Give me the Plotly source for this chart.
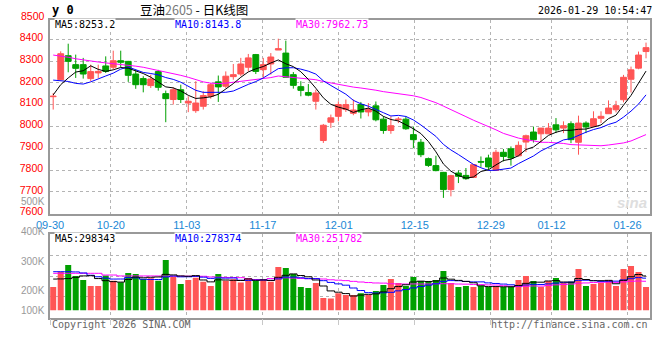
import plotly.graph_objects as go

# ---------------- data ----------------
dates = ["09-30", "10-09", "10-10", "10-13", "10-14", "10-15", "10-16", "10-17",
         "10-20", "10-21", "10-22", "10-23", "10-24", "10-27", "10-28", "10-29", "10-30", "10-31",
         "11-03", "11-04", "11-05", "11-06", "11-07", "11-10", "11-11", "11-12", "11-13", "11-14",
         "11-17", "11-18", "11-19", "11-20", "11-21", "11-24", "11-25", "11-26", "11-27", "11-28",
         "12-01", "12-02", "12-03", "12-04", "12-05", "12-08", "12-09", "12-10", "12-11", "12-12",
         "12-15", "12-16", "12-17", "12-18", "12-19", "12-22", "12-23", "12-24", "12-25", "12-26",
         "12-29", "12-30", "12-31", "01-05", "01-06", "01-07", "01-08", "01-09",
         "01-12", "01-13", "01-14", "01-15", "01-16", "01-19", "01-20", "01-21", "01-22", "01-23",
         "01-26", "01-27", "01-28", "01-29"]

opens = [8137, 8215, 8325, 8284, 8284, 8220, 8246, 8278, 8272, 8302,
         8299, 8241, 8220, 8188, 8252, 8151, 8124, 8169, 8108, 8073,
         8093, 8139, 8205, 8185, 8229, 8241, 8272, 8330, 8261, 8287,
         8351, 8337, 8238, 8183, 8156, 8116, 7936, 8020, 8047, 8078,
         8061, 8101, 8067, 8095, 8034, 7982, 8031, 8034, 7963, 7928,
         7853, 7821, 7790, 7711, 7787, 7776, 7767, 7840, 7856, 7799,
         7882, 7898, 7866, 7929, 7975, 7967, 7967, 8008, 7993, 8013,
         7928, 8016, 8001, 8038, 8059, 8077, 8123, 8217, 8268, 8344]
highs = [8154, 8345, 8380, 8330, 8315, 8284, 8284, 8322, 8348, 8348,
         8301, 8258, 8231, 8238, 8260, 8165, 8180, 8192, 8139, 8208,
         8162, 8200, 8234, 8253, 8287, 8315, 8333, 8333, 8315, 8337,
         8403, 8394, 8250, 8208, 8195, 8169, 8012, 8055, 8116, 8124,
         8124, 8113, 8108, 8115, 8047, 8047, 8044, 8047, 8000, 7943,
         7858, 7866, 7792, 7779, 7799, 7810, 7825, 7863, 7871, 7894,
         7897, 7909, 7932, 7963, 8000, 7993, 8016, 8039, 8024, 8024,
         8050, 8024, 8070, 8070, 8120, 8118, 8237, 8275, 8344, 8385]
lows = [8078, 8212, 8249, 8223, 8220, 8208, 8223, 8246, 8262, 8272,
        8205, 8173, 8157, 8177, 8165, 8020, 8101, 8108, 8066, 8063,
        8078, 8128, 8113, 8177, 8215, 8231, 8253, 8241, 8223, 8238,
        8351, 8226, 8174, 8139, 8139, 8078, 7925, 7994, 8024, 8067,
        8052, 8037, 8047, 8024, 7967, 7967, 8016, 7985, 7901, 7860,
        7815, 7795, 7673, 7680, 7741, 7756, 7764, 7815, 7802, 7799,
        7840, 7821, 7863, 7883, 7927, 7927, 7967, 7970, 7970, 7924,
        7871, 7970, 8001, 8016, 8059, 8065, 8111, 8156, 8263, 8313]
closes = [8139, 8334, 8299, 8267, 8241, 8252, 8253, 8253, 8302, 8295,
          8235, 8192, 8192, 8218, 8180, 8128, 8169, 8124, 8116, 8108,
          8142, 8192, 8182, 8231, 8238, 8287, 8315, 8253, 8284, 8319,
          8357, 8226, 8189, 8166, 8144, 8154, 8006, 8040, 8101, 8101,
          8076, 8067, 8078, 8031, 7982, 8004, 8034, 7990, 7940, 7871,
          7822, 7798, 7711, 7775, 7772, 7761, 7825, 7837, 7815, 7882,
          7863, 7856, 7914, 7958, 7940, 7993, 7993, 7985, 8004, 7940,
          8016, 7998, 8036, 8047, 8085, 8096, 8226, 8260, 8328, 8362]
volumes = [203000, 336000, 394000, 299000, 264000, 212000, 212000, 302000, 258000, 244000,
           325000, 316000, 273000, 278000, 258000, 438000, 293000, 229000, 264000, 284000,
           249000, 212000, 316000, 258000, 270000, 241000, 281000, 255000, 273000, 249000,
           377000, 368000, 316000, 203000, 194000, 238000, 107000, 102000, 148000, 133000,
           133000, 148000, 133000, 168000, 220000, 273000, 238000, 212000, 290000, 255000,
           255000, 264000, 342000, 238000, 203000, 212000, 203000, 212000, 203000, 203000,
           203000, 203000, 264000, 299000, 255000, 203000, 255000, 281000, 238000, 249000,
           360000, 212000, 229000, 238000, 264000, 212000, 360000, 386000, 334000, 203000]

# moving-average values before enough history is visible
ma5_head = [8145, 8192, 8223, 8250]
ma10_head = [8213, 8210, 8207, 8198, 8195, 8205, 8220, 8232, 8245]
ma30_head = [8328, 8324, 8318, 8311, 8305, 8300, 8296, 8292, 8289, 8286,
             8282, 8277, 8272, 8265, 8257, 8249, 8242, 8235, 8226, 8215,
             8205, 8199, 8197, 8199, 8203, 8207, 8211, 8215, 8220]
vma5_head = [272000, 273000, 276000, 287000]
vma10_head = [336000, 336000, 336000, 334000, 325000, 305000, 292000, 280000, 272000]
vma30_head = [322000, 322000, 322000, 322000, 322000, 322000, 322000, 307000, 307000, 299000,
              299000, 299000, 299000, 299000, 299000, 297000, 297000, 297000, 297000, 297000,
              296000, 290000, 288000, 286000, 285000, 284000, 273000, 268000, 264000]

tick_dates = ["09-30", "10-20", "11-03", "11-17", "12-01", "12-15", "12-29", "01-12", "01-26"]
price_ticks = [7600, 7700, 7800, 7900, 8000, 8100, 8200, 8300, 8400, 8500]
vol_tick_labels = ["500K", "400K", "300K", "200K", "100K"]
price_ma_labels = ["MA5:8253.2", "MA10:8143.8", "MA30:7962.73"]
vol_ma_labels = ["MA5:298343", "MA10:278374", "MA30:251782"]
title_code = "y 0"
title_name = "豆油<span style='color:#777777'>2605</span> - 日K线图"
timestamp = "2026-01-29 10:54:47"
copyright_text = "Copyright 2026 SINA.COM"
url_text = "http://finance.sina.com.cn"

# ---------------- derived series ----------------
idx = list(range(len(dates)))


def moving_average(series, n, head):
    out = []
    for i in range(len(series)):
        if i >= n - 1:
            out.append(sum(series[i - n + 1:i + 1]) / n)
        else:
            out.append(head[i])
    return out


ma5 = moving_average(closes, 5, ma5_head)
ma10 = moving_average(closes, 10, ma10_head)
ma30 = moving_average(closes, 30, ma30_head)
vma5 = moving_average(volumes, 5, vma5_head)
vma10 = moving_average(volumes, 10, vma10_head)
vma30 = moving_average(volumes, 30, vma30_head)

# ---------------- styling ----------------
W, H = 660, 360
L, R = 50, 10
RED = "#ff5555"
GREEN = "#00a000"
MA_COLORS = ["#000000", "#0000ff", "#ff00ff"]
GRID = "#b4b4b4"
BORDER = "#999999"
MONO = "DejaVu Sans Mono"
SANS = "Liberation Sans"

MAIN_TOP, MAIN_BOTTOM = 19.5, 213.8     # pixel rows of the price panel
VOL_TOP, VOL_BOTTOM = 234.3, 317.7      # pixel rows of the volume panel


def px_x(px):
    return (px - L) / (W - L - R)


def px_y(py):
    return 1 - py / H


vol_colors = [RED if c >= o else GREEN for o, c in zip(opens, closes)]

fig = go.Figure()

fig.add_trace(go.Candlestick(
    x=idx, open=opens, high=highs, low=lows, close=closes,
    increasing=dict(line=dict(color=RED, width=1), fillcolor=RED),
    decreasing=dict(line=dict(color=GREEN, width=1), fillcolor=GREEN),
    whiskerwidth=0, showlegend=False, hoverinfo="skip",
    xaxis="x", yaxis="y"))

for series, col in zip([ma30, ma10, ma5], MA_COLORS[::-1]):
    fig.add_trace(go.Scatter(x=idx, y=series, mode="lines",
                             line=dict(color=col, width=1),
                             showlegend=False, hoverinfo="skip",
                             xaxis="x", yaxis="y"))

fig.add_trace(go.Bar(x=idx, y=volumes,
                     marker=dict(color=vol_colors, line=dict(width=0)),
                     showlegend=False, hoverinfo="skip",
                     xaxis="x2", yaxis="y2"))

for series, col in zip([vma30, vma10, vma5], MA_COLORS[::-1]):
    fig.add_trace(go.Scatter(x=idx, y=series, mode="lines",
                             line=dict(color=col, width=1, shape="hvh"),
                             showlegend=False, hoverinfo="skip",
                             xaxis="x2", yaxis="y2"))

# axis geometry
x_range = [-0.426, 79.53]
tick_pos = [dates.index(d) * 1.0125 - 0.42 for d in tick_dates]
price_range = [7600, 8491]
vol_range = [-64000, 661000]
vol_grid = [vol_range[0] + k * (vol_range[1] - vol_range[0]) / 4 for k in (1, 2, 3)]


def price_to_py(p):
    frac = (p - price_range[0]) / (price_range[1] - price_range[0])
    return MAIN_BOTTOM - frac * (MAIN_BOTTOM - MAIN_TOP)


common_x = dict(range=x_range, tickvals=tick_pos, showgrid=True, gridcolor=GRID,
                griddash="dot", gridwidth=1, zeroline=False, showline=True,
                linecolor=BORDER, linewidth=1.5, mirror=True, automargin=False,
                rangeslider=dict(visible=False))

fig.update_layout(
    template="none",
    width=W, height=H,
    margin=dict(l=L, r=R, t=0, b=0, autoexpand=False),
    paper_bgcolor="white", plot_bgcolor="white",
    boxgap=0.22, boxgroupgap=0,
    bargap=0.2,
    showlegend=False,
    xaxis=dict(domain=[0, 1], anchor="y", ticktext=tick_dates, ticks="",
               tickfont=dict(family=SANS, size=11, color="#1a88d6"), **common_x),
    yaxis=dict(domain=[px_y(MAIN_BOTTOM), px_y(MAIN_TOP)], range=price_range, anchor="x",
               tickvals=price_ticks, ticks="", ticklabelshift=-2, ticklabelstandoff=3,
               tickfont=dict(family=SANS, size=10.5, color="#ff0000"), automargin=False,
               showgrid=True, gridcolor=GRID, griddash="dot", zeroline=False,
               showline=True, linecolor=BORDER, linewidth=1.5, mirror=True),
    xaxis2=dict(domain=[0, 1], anchor="y2", showticklabels=False,
                ticks="outside", ticklen=6, tickcolor="#c8c8c8", **common_x),
    yaxis2=dict(domain=[px_y(VOL_BOTTOM), px_y(VOL_TOP)], range=vol_range, anchor="x2",
                tickvals=vol_grid, showticklabels=False, ticks="", automargin=False,
                showgrid=True, gridcolor=GRID, griddash="dot", zeroline=False,
                showline=True, linecolor=BORDER, linewidth=1.5, mirror=True),
)

ann = []
# price labels above the visible range (drawn in the header strip)
for t in price_ticks:
    if t > price_range[1]:
        ann.append(dict(xref="paper", yref="paper", x=px_x(46.5), y=px_y(price_to_py(t) - 2),
                        text=str(t), showarrow=False, xanchor="right", yanchor="middle",
                        font=dict(family=SANS, size=10.5, color="#ff0000")))
# volume axis labels (as positioned in the original)
for txt, py in zip(vol_tick_labels, [201, 231.5, 261, 290, 310]):
    ann.append(dict(xref="paper", yref="paper", x=px_x(46.5), y=px_y(py), text=txt,
                    showarrow=False, xanchor="right", yanchor="middle",
                    font=dict(family=SANS, size=10, color="#999999")))
# MA legends
for txt, col, px in zip(price_ma_labels, MA_COLORS, [54, 174, 295]):
    ann.append(dict(xref="paper", yref="paper", x=px_x(px), y=px_y(24.3), text=txt,
                    showarrow=False, xanchor="left", yanchor="middle", bgcolor="white",
                    borderpad=0, font=dict(family=MONO, size=10, color=col)))
for txt, col, px in zip(vol_ma_labels, MA_COLORS, [54, 174, 295]):
    ann.append(dict(xref="paper", yref="paper", x=px_x(px), y=px_y(238.5), text=txt,
                    showarrow=False, xanchor="left", yanchor="middle", bgcolor="white",
                    borderpad=0, font=dict(family=MONO, size=10, color=col)))
# header
ann.append(dict(xref="paper", yref="paper", x=px_x(50), y=px_y(9.5), text="<b>" + title_code + "</b>",
                showarrow=False, xanchor="left", yanchor="middle",
                font=dict(family=MONO, size=12, color="#000000")))
ann.append(dict(xref="paper", yref="paper", x=px_x(138), y=px_y(9), text=title_name,
                showarrow=False, xanchor="left", yanchor="middle",
                font=dict(family="Noto Sans CJK SC", size=12.5, color="#000000")))
ann.append(dict(xref="paper", yref="paper", x=px_x(654), y=px_y(10.5), text=timestamp,
                showarrow=False, xanchor="right", yanchor="middle",
                font=dict(family=MONO, size=10, color="#000000")))
# footer
ann.append(dict(xref="paper", yref="paper", x=px_x(50), y=px_y(324), text=copyright_text,
                showarrow=False, xanchor="left", yanchor="middle",
                font=dict(family=MONO, size=10, color="#666666")))
ann.append(dict(xref="paper", yref="paper", x=px_x(650), y=px_y(324), text=url_text,
                showarrow=False, xanchor="right", yanchor="middle",
                font=dict(family=MONO, size=10, color="#666666")))
# faint watermark
ann.append(dict(xref="paper", yref="paper", x=px_x(632), y=px_y(202), text="<b><i>sina</i></b>",
                showarrow=False, xanchor="center", yanchor="middle",
                font=dict(family=SANS, size=15, color="#dedede")))

fig.update_layout(annotations=ann)

fig.write_html("out.html", config={"displayModeBar": False},
               post_script="document.body.style.margin='0';document.body.style.padding='0';")
